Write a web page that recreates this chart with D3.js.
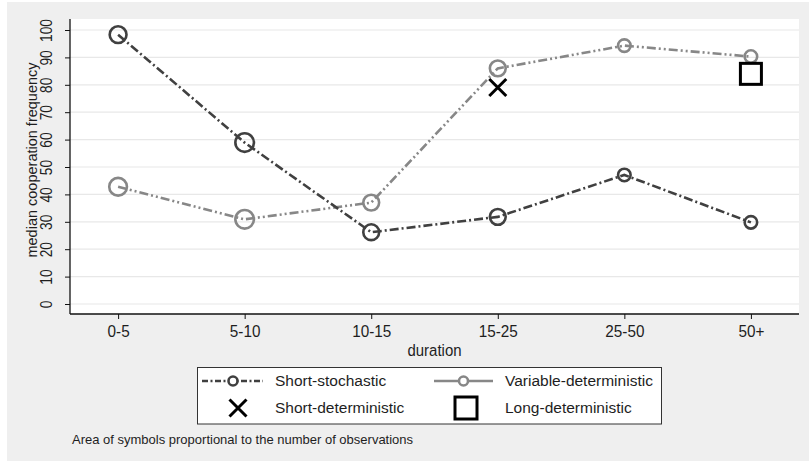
<!DOCTYPE html>
<html>
<head>
<meta charset="utf-8">
<script src="https://cdn.jsdelivr.net/npm/d3@7"></script>
<style>
  html, body { margin: 0; padding: 0; background: #ffffff; }
  svg { display: block; }
  text { font-family: "Liberation Sans", Arial, sans-serif; fill: #1e1e1e; }
</style>
</head>
<body>
<script>
// ---------- data ----------
const categories = ["0-5", "5-10", "10-15", "15-25", "25-50", "50+"];
const shortStochastic = [98.3, 58.9, 26.2, 31.8, 47.1, 29.8];
const shortStochasticObs = [9, 11, 8, 8, 5, 5];
const variableDeterministic = [42.8, 30.9, 37.0, 86.0, 94.3, 90.3];
const variableDeterministicObs = [10, 11, 8, 8, 5, 5];
const shortDeterministicCat = ["15-25"];
const shortDeterministic = [79];
const longDeterministicCat = ["50+"];
const longDeterministic = [84];
const yTicks = [0, 10, 20, 30, 40, 50, 60, 70, 80, 90, 100];
const legendLabels = ["Short-stochastic", "Variable-deterministic", "Short-deterministic", "Long-deterministic"];
const yTitle = "median cooperation frequency";
const xTitle = "duration";
const note = "Area of symbols proportional to the number of observations";

// ---------- layout ----------
const W = 809, H = 461;
const plot = { left: 70, right: 799, top: 19, bottom: 314 };
const darkCol = "#404040", grayCol = "#878787";

const svg = d3.select("body").append("svg").attr("width", W).attr("height", H);
svg.append("rect").attr("x", 0).attr("y", 0).attr("width", W).attr("height", H).attr("fill", "#ffffff");
svg.append("rect").attr("x", 7).attr("y", 2).attr("width", W - 7).attr("height", H - 2).attr("fill", "#efefef");
svg.append("rect").attr("x", plot.left).attr("y", plot.top)
  .attr("width", plot.right - plot.left).attr("height", plot.bottom - plot.top).attr("fill", "#ffffff");

const x = d3.scalePoint().domain(categories).range([plot.left, plot.right]).padding(0.38);
const y = d3.scaleLinear().domain([0, 100]).range([304, 30]);
const r = d3.scaleSqrt().domain([0, 11]).range([0, 9.3]);

// grid
svg.append("g").selectAll("line").data(yTicks).join("line")
  .attr("x1", plot.left).attr("x2", plot.right)
  .attr("y1", d => y(d)).attr("y2", d => y(d))
  .attr("stroke", "#e8e8e8").attr("stroke-width", 1.2);

// y axis
const yAxis = svg.append("g").attr("transform", `translate(${plot.left},0)`)
  .call(d3.axisLeft(y).tickValues(yTicks).tickSize(5));
yAxis.select(".domain").remove();
yAxis.append("line").attr("x1", 0).attr("x2", 0).attr("y1", plot.top).attr("y2", plot.bottom)
  .attr("stroke", "#111").attr("stroke-width", 1.3);
yAxis.selectAll(".tick line").attr("stroke", "#111");
yAxis.selectAll(".tick text")
  .attr("x", 0).attr("y", 0).attr("dy", null)
  .attr("transform", "translate(-18.5,0) rotate(-90) scale(0.86,1)")
  .attr("text-anchor", "middle")
  .style("font-size", "16px").style("fill", "#1e1e1e");

// x axis
const xAxis = svg.append("g").attr("transform", `translate(0,${plot.bottom})`)
  .call(d3.axisBottom(x).tickSize(5).tickPadding(6));
xAxis.select(".domain").remove();
xAxis.append("line").attr("x1", plot.left).attr("x2", plot.right).attr("y1", 0).attr("y2", 0)
  .attr("stroke", "#111").attr("stroke-width", 1.3);
xAxis.selectAll(".tick line").attr("stroke", "#111");
xAxis.selectAll(".tick text").attr("transform", "scale(0.9,1)")
  .style("font-size", "17px").style("fill", "#1e1e1e");

// titles
svg.append("text").attr("transform", `translate(37,160) rotate(-90)`)
  .attr("text-anchor", "middle").style("font-size", "14.5px").text(yTitle);
svg.append("text").attr("transform", `translate(${(plot.left + plot.right) / 2},356) scale(0.88,1)`)
  .attr("text-anchor", "middle").style("font-size", "17px").text(xTitle);

// lines
const dataDark = categories.map((c, i) => ({ c, v: shortStochastic[i], n: shortStochasticObs[i] }));
const dataGray = categories.map((c, i) => ({ c, v: variableDeterministic[i], n: variableDeterministicObs[i] }));
const line = d3.line().x(d => x(d.c)).y(d => y(d.v));

svg.append("path").datum(dataGray).attr("d", line).attr("fill", "none")
  .attr("stroke", grayCol).attr("stroke-width", 2.6).attr("stroke-dasharray", "9,3,2,3,2,3");
svg.append("path").datum(dataDark).attr("d", line).attr("fill", "none")
  .attr("stroke", darkCol).attr("stroke-width", 2.6).attr("stroke-dasharray", "9,3,2,3");

svg.append("g").selectAll("circle").data(dataGray).join("circle")
  .attr("cx", d => x(d.c)).attr("cy", d => y(d.v)).attr("r", d => r(d.n))
  .attr("fill", "none").attr("stroke", grayCol).attr("stroke-width", 2.6);
svg.append("g").selectAll("circle").data(dataDark).join("circle")
  .attr("cx", d => x(d.c)).attr("cy", d => y(d.v)).attr("r", d => r(d.n))
  .attr("fill", "none").attr("stroke", darkCol).attr("stroke-width", 2.6);

// markers
function drawX(g, cx, cy, s) {
  g.append("path").attr("d", `M${cx - s},${cy - s}L${cx + s},${cy + s}M${cx - s},${cy + s}L${cx + s},${cy - s}`)
    .attr("stroke", "#000").attr("stroke-width", 3).attr("fill", "none");
}
function drawSq(g, cx, cy, s) {
  g.append("rect").attr("x", cx - s).attr("y", cy - s).attr("width", 2 * s).attr("height", 2 * s)
    .attr("fill", "none").attr("stroke", "#000").attr("stroke-width", 3);
}
shortDeterministicCat.forEach((c, i) => drawX(svg, x(c), y(shortDeterministic[i]), 8.5));
longDeterministicCat.forEach((c, i) => drawSq(svg, x(c), y(longDeterministic[i]), 10.5));

// legend
const lg = svg.append("g");
lg.append("rect").attr("x", 197.5).attr("y", 367.5).attr("width", 464).attr("height", 56.5)
  .attr("fill", "#ffffff").attr("stroke", "#333").attr("stroke-width", 1);
const row1 = 381, row2 = 408;
lg.append("line").attr("x1", 202).attr("x2", 263).attr("y1", row1).attr("y2", row1)
  .attr("stroke", darkCol).attr("stroke-width", 2.6).attr("stroke-dasharray", "6,2.5,2,2.5");
lg.append("circle").attr("cx", 233).attr("cy", row1).attr("r", 4.5).attr("fill", "#fff")
  .attr("stroke", darkCol).attr("stroke-width", 2.6);
lg.append("line").attr("x1", 434).attr("x2", 493).attr("y1", row1).attr("y2", row1)
  .attr("stroke", grayCol).attr("stroke-width", 2.6);
lg.append("circle").attr("cx", 463.5).attr("cy", row1).attr("r", 4.5).attr("fill", "#fff")
  .attr("stroke", grayCol).attr("stroke-width", 2.6);
drawX(lg, 238, row2, 8.5);
drawSq(lg, 466, row2, 11);
const lx = [275, 505, 275, 505], ly = [row1, row1, row2, row2];
lg.selectAll("text.lab").data(legendLabels).join("text").attr("class", "lab")
  .attr("x", (d, i) => lx[i]).attr("y", (d, i) => ly[i]).attr("dy", "0.35em")
  .style("font-size", "15.5px").text(d => d);

svg.append("text").attr("x", 72).attr("y", 439).attr("dy", "0.35em")
  .style("font-size", "13px").text(note);
</script>
</body>
</html>
